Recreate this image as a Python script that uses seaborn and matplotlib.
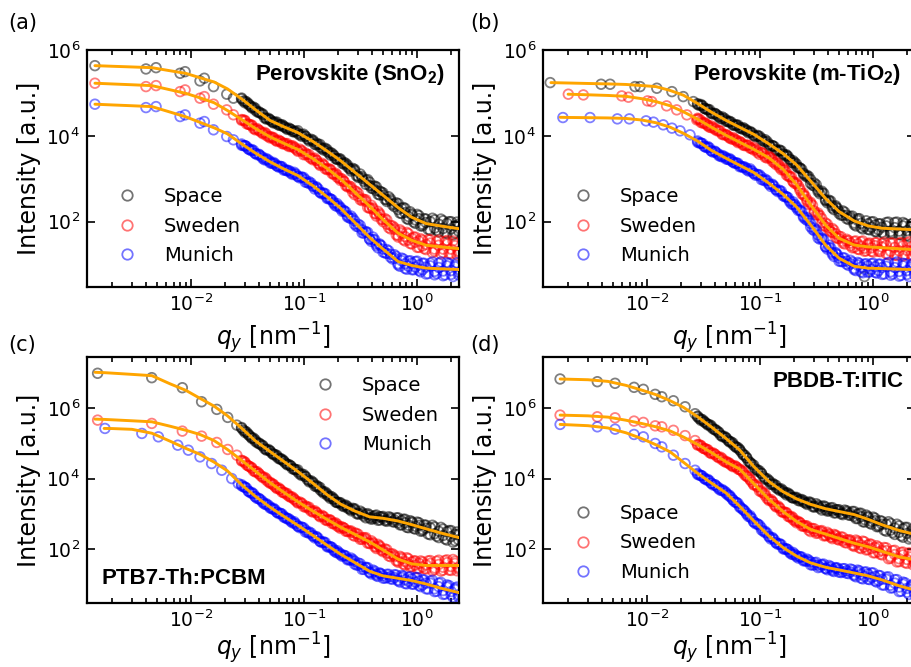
import numpy as np
import matplotlib
matplotlib.use("Agg")
import matplotlib.pyplot as plt
import seaborn as sns
from matplotlib.lines import Line2D
from matplotlib.ticker import FixedLocator, LogLocator, NullLocator, NullFormatter, LogFormatterMathtext

# ---------------- data (intensities given as log10 values) -------------
series_names = ["Space", "Sweden", "Munich"]
point_colors = ["black", "red", "blue"]
fit_color = "orange"

# q grids of the dense high-q part of every curve [nm^-1] (interleaved detector points)
q_dense = [0.028, 0.030, 0.0322, 0.0345, 0.037, 0.0399, 0.0431, 0.0463, 0.050, 0.0536, 0.0575, 0.0617,
           0.066, 0.0710, 0.0762, 0.0818, 0.088, 0.0951, 0.1028, 0.1109, 0.12, 0.1288, 0.1384, 0.1489,
           0.16, 0.1710, 0.1832, 0.1959, 0.21, 0.2254, 0.2421, 0.2606, 0.28, 0.302, 0.326, 0.352,
           0.38, 0.407, 0.436, 0.467, 0.50, 0.540, 0.583, 0.630, 0.68, 0.730, 0.783, 0.839,
           0.90, 0.966, 1.040, 1.117, 1.20, 1.309, 1.429, 1.556, 1.70, 1.841, 2.0, 2.168, 2.33]
q_mid = [0.0290, 0.0310, 0.0333, 0.0357, 0.0384, 0.0414, 0.0447, 0.0482, 0.0518, 0.0555, 0.0596, 0.0638,
         0.0684, 0.0735, 0.0789, 0.0848, 0.0914, 0.0989, 0.1067, 0.1153, 0.1245, 0.1337, 0.1436, 0.1542,
         0.1656, 0.1770, 0.1897, 0.2028, 0.2178, 0.2339, 0.2512, 0.2698, 0.2911, 0.3141, 0.3388, 0.3656,
         0.3936, 0.4217, 0.4508, 0.4831, 0.5200, 0.5610, 0.6067, 0.6546, 0.7047, 0.7551, 0.8110, 0.8690,
         0.9333, 1.0023, 1.0765, 1.1561, 1.253, 1.368, 1.489, 1.626, 1.770, 1.919, 2.080, 2.254]
# q grid of the fitted model curves
q_fit = [1.41e-3, 1.7e-3, 2.0e-3, 3e-3, 4.5e-3, 6.5e-3, 9e-3, 0.012, 0.016, 0.021, 0.028, 0.037, 0.05,
         0.066, 0.088, 0.12, 0.16, 0.21, 0.28, 0.38, 0.5, 0.68, 0.9, 1.2, 1.7, 2.35]
nan = float("nan")

# ---- (a) Perovskite (SnO2)
q_a_low = [1.41e-3, 3.99e-3, 4.9e-3, 8.0e-3, 8.85e-3, 1.2e-2, 1.31e-2, 1.58e-2, 2.07e-2, 2.37e-2]
space_a_low = [5.635, 5.558, 5.588, 5.458, 5.495, 5.279, 5.342, 5.147, 4.970, 4.877]
sweden_a_low = [5.226, 5.147, 5.170, 5.030, 5.070, 4.877, 4.914, 4.737, 4.605, 4.49]
munich_a_low = [4.737, 4.658, 4.681, 4.449, 4.488, 4.295, 4.333, 4.140, 3.984, 3.907]
space_a_hi = [4.88, 4.77, 4.75, 4.65, 4.64, 4.54, 4.51, 4.39, 4.38, 4.30, 4.32, 4.24, 4.23, 4.15, 4.15, 4.09,
              4.12, 3.99, 3.99, 3.88, 3.90, 3.79, 3.80, 3.67, 3.68, 3.55, 3.55, 3.45, 3.46, 3.34, 3.32, 3.18,
              3.22, 3.03, 3.05, 2.87, 2.92, 2.77, 2.81, 2.62, 2.67, 2.47, 2.53, 2.35, 2.42, 2.19, 2.31, 2.05,
              2.18, 1.96, 2.14, 1.90, 2.06, 1.80, 2.04, 1.76, 2.02, 1.72, 2.00, 1.73, 1.94]
sweden_a_hi = [4.36, 4.36, 4.27, 4.25, 4.14, 4.13, 4.05, 4.05, 3.95, 3.96, 3.87, 3.87, 3.81, 3.82, 3.75, 3.74,
               3.64, 3.66, 3.56, 3.56, 3.44, 3.43, 3.31, 3.33, 3.21, 3.22, 3.10, 3.09, 2.96, 2.94, 2.81, 2.81,
               2.63, 2.66, 2.49, 2.51, 2.31, 2.32, 2.13, 2.19, 2.00, 2.04, 1.83, 1.86, 1.64, 1.77, 1.55, 1.72,
               1.48, 1.64, 1.40, 1.57, 1.35, 1.58, 1.31, 1.57, 1.28, 1.56, 1.25, 1.50, 1.27]
munich_a_hi = [3.78, 3.77, 3.69, 3.68, 3.59, 3.57, 3.47, 3.47, 3.37, 3.38, 3.30, 3.29, 3.20, 3.20, 3.13, 3.15,
               3.05, 3.04, 2.92, 2.93, 2.82, 2.81, 2.68, 2.67, 2.54, 2.53, 2.42, 2.42, 2.30, 2.26, 2.11, 2.13,
               1.94, 1.94, 1.74, 1.77, 1.59, 1.64, 1.44, 1.48, 1.29, 1.35, 1.17, 1.23, 0.99, 1.15, 0.91, 1.08,
               0.88, 1.07, 0.86, 1.03, 0.78, 1.03, 0.76, 1.03, 0.74, 1.04, 0.77, 0.99, 0.76]
space_a_ctr = [4.86, 4.81, 4.73, 4.67, 4.60, 4.56, 4.49, 4.41, 4.37, 4.32, 4.28, 4.26, 4.21, 4.17, 4.15, 4.11,
               4.06, 4.03, 3.99, 3.91, 3.87, 3.83, 3.74, 3.71, 3.64, 3.61, 3.53, 3.46, 3.43, 3.38, 3.28, 3.22,
               3.19, 3.06, 3.01, 2.97, 2.84, 2.82, 2.72, 2.71, 2.62, 2.51, 2.49, 2.41, 2.28, 2.31, 2.21, 2.12,
               2.15, 2.04, 2.07, 1.94, 1.98, 2.00, 1.85, 1.94, 1.84, 1.96, 1.83, 1.91, 1.78]
sweden_a_ctr = [4.38, 4.34, 4.27, 4.23, 4.16, 4.13, 4.07, 4.01, 3.98, 3.94, 3.89, 3.87, 3.83, 3.78, 3.77, 3.72,
                3.66, 3.64, 3.60, 3.51, 3.47, 3.43, 3.33, 3.31, 3.23, 3.20, 3.12, 3.04, 3.01, 2.94, 2.83, 2.77,
                2.72, 2.59, 2.53, 2.47, 2.33, 2.29, 2.18, 2.16, 2.05, 1.94, 1.91, 1.82, 1.68, 1.73, 1.65, 1.57,
                1.61, 1.52, 1.55, 1.43, 1.47, 1.50, 1.36, 1.45, 1.36, 1.48, 1.36, 1.44, 1.31]
munich_a_ctr = [3.81, 3.77, 3.70, 3.65, 3.59, 3.56, 3.50, 3.44, 3.40, 3.35, 3.30, 3.28, 3.23, 3.18, 3.16, 3.11,
                3.06, 3.03, 2.98, 2.89, 2.84, 2.79, 2.69, 2.65, 2.57, 2.53, 2.45, 2.36, 2.33, 2.25, 2.14, 2.07,
                2.02, 1.88, 1.81, 1.75, 1.60, 1.58, 1.48, 1.46, 1.36, 1.26, 1.24, 1.15, 1.02, 1.09, 1.02, 0.96,
                1.03, 0.94, 0.99, 0.88, 0.94, 0.97, 0.84, 0.93, 0.85, 0.97, 0.86, 0.95, 0.82]
space_a_mid = [4.81, 4.79, 4.70, 4.67, 4.56, 4.53, 4.42, 4.41, 4.33, 4.32, 4.25, 4.26, 4.19, 4.18, 4.10, 4.10,
               4.02, 4.04, 3.93, 3.92, 3.80, 3.80, 3.70, 3.71, 3.60, 3.59, 3.47, 3.47, 3.36, 3.36, 3.24, 3.24,
               3.07, 3.11, 2.94, 2.98, 2.78, 2.83, 2.64, 2.69, 2.52, 2.58, 2.39, 2.44, 2.20, 2.33, 2.07, 2.23,
               1.99, 2.17, 1.90, 2.07, 1.82, 2.08, 1.80, 2.06, 1.74, 2.00, 1.69, 1.99]
sweden_a_mid = [4.37, 4.28, 4.26, 4.17, 4.17, 4.09, 4.08, 3.98, 3.97, 3.90, 3.90, 3.82, 3.82, 3.75, 3.77, 3.69,
                3.69, 3.56, 3.57, 3.47, 3.48, 3.36, 3.36, 3.23, 3.23, 3.12, 3.13, 3.01, 2.99, 2.84, 2.83, 2.68,
                2.70, 2.51, 2.52, 2.33, 2.38, 2.19, 2.24, 2.05, 2.07, 1.86, 1.90, 1.69, 1.81, 1.58, 1.75, 1.49,
                1.64, 1.40, 1.60, 1.37, 1.58, 1.28, 1.54, 1.25, 1.54, 1.26, 1.55, 1.23]
munich_a_mid = [3.77, 3.75, 3.67, 3.66, 3.56, 3.53, 3.44, 3.44, 3.36, 3.35, 3.27, 3.28, 3.20, 3.19, 3.10, 3.11,
                3.02, 3.03, 2.91, 2.90, 2.76, 2.76, 2.65, 2.65, 2.53, 2.51, 2.37, 2.37, 2.24, 2.23, 2.09, 2.08,
                1.89, 1.91, 1.73, 1.75, 1.54, 1.58, 1.39, 1.44, 1.27, 1.32, 1.13, 1.19, 0.96, 1.13, 0.89, 1.09,
                0.88, 1.08, 0.83, 1.03, 0.79, 1.06, 0.79, 1.06, 0.76, 1.02, 0.72, 1.04]
space_a_fit = [5.635, 5.628, 5.621, 5.605, 5.588, 5.517, 5.455, 5.353, 5.254, 5.094, 4.860, 4.612, 4.358,
               4.212, 4.075, 3.867, 3.645, 3.423, 3.155, 2.870, 2.615, 2.326, 2.100, 1.955, 1.890, 1.835]
sweden_a_fit = [5.226, 5.217, 5.209, 5.190, 5.170, 5.074, 4.989, 4.885, 4.771, 4.590, 4.380, 4.173, 3.974,
                3.827, 3.682, 3.468, 3.239, 2.997, 2.690, 2.360, 2.048, 1.730, 1.564, 1.450, 1.407, 1.370]
munich_a_fit = [4.737, 4.728, 4.720, 4.701, 4.681, 4.555, 4.442, 4.314, 4.186, 4.046, 3.813, 3.601, 3.394,
                3.230, 3.075, 2.835, 2.578, 2.315, 1.985, 1.633, 1.361, 1.070, 0.978, 0.917, 0.899, 0.884]

# ---- (b) Perovskite (m-TiO2)
space_b_q_low = [1.39e-3, 3.92e-3, 4.71e-3, 7.83e-3, 8.67e-3, 1.22e-2, 1.66e-2, 2.09e-2, 2.57e-2]
space_b_low = [5.240, 5.202, 5.202, 5.147, 5.147, 5.109, 5.030, 4.914, 4.798]
sweden_b_q_low = [2.01e-3, 2.73e-3, 5.97e-3, 6.84e-3, 1.01e-2, 1.10e-2, 1.49e-2, 1.83e-2, 2.25e-2, 2.75e-2]
sweden_b_low = [4.970, 4.953, 4.930, 4.900, 4.814, 4.798, 4.698, 4.605, 4.488, 4.372]
munich_b_q_low = [1.80e-3, 3.13e-3, 5.46e-3, 6.97e-3, 9.8e-3, 1.14e-2, 1.39e-2, 1.66e-2, 1.96e-2, 2.40e-2]
munich_b_low = [4.426, 4.426, 4.395, 4.395, 4.349, 4.319, 4.256, 4.179, 4.116, 4.023]
space_b_hi = [4.73, 4.73, 4.64, 4.62, 4.52, 4.52, 4.44, 4.44, 4.34, 4.34, 4.25, 4.25, 4.18, 4.19, 4.11, 4.10,
              4.00, 4.01, 3.90, 3.91, 3.78, 3.77, 3.66, 3.67, 3.56, 3.56, 3.44, 3.42, 3.29, 3.25, 3.11, 3.08,
              2.89, 2.90, 2.70, 2.71, 2.49, 2.50, 2.32, 2.37, 2.19, 2.25, 2.07, 2.12, 1.93, 2.07, 1.86, 0.72,
              1.82, 1.99, 1.77, 1.95, 1.75, 1.98, 1.72, 1.98, 1.70, 1.98, 1.68, 1.94, 1.71]
sweden_b_hi = [4.41, 4.31, 4.31, 4.23, 4.23, 4.15, 4.13, 4.03, 4.03, 3.95, 3.96, 3.88, 3.87, 3.78, 3.78, 3.71,
               3.73, 3.61, 3.61, 3.50, 3.52, 3.40, 3.39, 3.26, 3.25, 3.09, 3.06, 2.93, 2.91, 2.73, 2.66, 2.47,
               2.45, 2.22, 2.20, 1.97, 1.97, 1.80, 1.84, 1.63, 1.66, 1.50, 1.59, 1.44, 1.54, 1.36, 1.53, 1.31,
               1.49, 1.31, 1.51, 1.31, 1.49, 1.25, 1.50, 1.22, 1.50, 1.20, 1.50, 1.23, 1.45]
munich_b_hi = [3.85, 3.83, 3.75, 3.75, 3.65, 3.64, 3.54, 3.54, 3.46, 3.47, 3.39, 3.37, 3.28, 3.28, 3.21, 3.23,
               3.12, 3.10, 2.98, 2.99, 2.87, 2.87, 2.74, 2.73, 2.60, 2.58, 2.46, 2.46, 2.32, 2.27, 2.10, 2.09,
               1.88, 1.85, 1.62, 1.62, 1.41, 1.45, 1.24, 1.28, 1.08, 1.16, 1.01, 1.10, 0.88, 1.05, 0.83, 1.01,
               0.82, 1.02, 0.82, 1.01, 0.77, 1.02, 0.75, 1.03, 0.73, 1.03, 0.77, 0.99, 0.76]
space_b_ctr = [4.75, 4.71, 4.64, 4.60, 4.54, 4.52, 4.46, 4.40, 4.37, 4.32, 4.27, 4.25, 4.20, 4.15, 4.13, 4.08,
               4.02, 3.99, 3.94, 3.86, 3.81, 3.77, 3.68, 3.65, 3.58, 3.54, 3.46, 3.37, 3.34, 3.25, 3.13, 3.04,
               2.98, 2.83, 2.74, 2.67, 2.51, 2.47, 2.37, 2.34, 2.24, 2.15, 2.15, 2.08, 1.97, 2.03, 1.96, 1.89,
               1.95, 1.87, 1.92, 1.81, 1.87, 1.90, 1.77, 1.86, 1.78, 1.90, 1.79, 1.88, 1.75]
sweden_b_ctr = [4.39, 4.35, 4.29, 4.25, 4.19, 4.17, 4.11, 4.05, 4.02, 3.97, 3.92, 3.90, 3.85, 3.80, 3.78, 3.73,
                3.67, 3.65, 3.61, 3.53, 3.49, 3.44, 3.33, 3.30, 3.21, 3.15, 3.04, 2.94, 2.88, 2.77, 2.62, 2.51,
                2.42, 2.25, 2.16, 2.07, 1.89, 1.85, 1.75, 1.72, 1.61, 1.54, 1.55, 1.50, 1.40, 1.48, 1.43, 1.38,
                1.46, 1.39, 1.44, 1.35, 1.41, 1.45, 1.31, 1.40, 1.32, 1.44, 1.33, 1.41, 1.29]
munich_b_ctr = [3.88, 3.83, 3.76, 3.72, 3.65, 3.63, 3.57, 3.51, 3.49, 3.44, 3.39, 3.36, 3.31, 3.26, 3.24, 3.19,
                3.13, 3.09, 3.04, 2.95, 2.89, 2.85, 2.75, 2.71, 2.63, 2.58, 2.49, 2.40, 2.35, 2.26, 2.13, 2.03,
                1.96, 1.79, 1.69, 1.60, 1.42, 1.39, 1.28, 1.26, 1.15, 1.07, 1.08, 1.02, 0.91, 0.99, 0.94, 0.89,
                0.97, 0.89, 0.95, 0.86, 0.93, 0.96, 0.83, 0.93, 0.84, 0.97, 0.86, 0.95, 0.82]
space_b_mid = [4.71, 4.70, 4.62, 4.61, 4.51, 4.49, 4.40, 4.41, 4.33, 4.32, 4.24, 4.25, 4.17, 4.16, 4.07, 4.07,
               3.98, 3.99, 3.88, 3.87, 3.74, 3.75, 3.64, 3.65, 3.53, 3.52, 3.38, 3.38, 3.25, 3.22, 3.07, 3.05,
               2.85, 2.86, 2.65, 2.66, 2.44, 2.48, 2.28, 2.31, 2.15, 2.22, 2.05, 2.13, 1.90, 2.07, 1.83, 2.02,
               1.81, 2.00, 1.76, 1.95, 1.71, 1.99, 1.72, 1.99, 1.69, 1.95, 1.65, 1.96]
sweden_b_mid = [4.39, 4.30, 4.28, 4.20, 4.20, 4.12, 4.11, 4.02, 4.00, 3.93, 3.93, 3.84, 3.84, 3.77, 3.78, 3.70,
                3.69, 3.57, 3.58, 3.48, 3.49, 3.37, 3.35, 3.21, 3.20, 3.06, 3.04, 2.89, 2.84, 2.65, 2.59, 2.40,
                2.38, 2.16, 2.14, 1.91, 1.94, 1.76, 1.80, 1.61, 1.65, 1.48, 1.56, 1.39, 1.55, 1.35, 1.55, 1.32,
                1.50, 1.29, 1.51, 1.30, 1.52, 1.23, 1.50, 1.21, 1.51, 1.23, 1.53, 1.20]
munich_b_mid = [3.83, 3.82, 3.73, 3.72, 3.62, 3.60, 3.52, 3.52, 3.45, 3.44, 3.36, 3.36, 3.28, 3.27, 3.18, 3.18,
                3.08, 3.09, 2.97, 2.96, 2.82, 2.82, 2.70, 2.71, 2.58, 2.56, 2.41, 2.40, 2.26, 2.23, 2.06, 2.03,
                1.82, 1.81, 1.59, 1.58, 1.36, 1.39, 1.19, 1.23, 1.07, 1.15, 0.98, 1.06, 0.86, 1.03, 0.81, 1.02,
                0.83, 1.03, 0.80, 1.01, 0.78, 1.05, 0.78, 1.06, 0.75, 1.02, 0.72, 1.03]
space_b_fit = [5.240, 5.235, 5.231, 5.220, 5.210, 5.197, 5.171, 5.147, 5.057, 4.946, 4.753, 4.554, 4.360,
               4.199, 4.035, 3.810, 3.585, 3.325, 2.948, 2.540, 2.235, 2.017, 1.903, 1.846, 1.828, 1.812]
sweden_b_fit = [nan, nan, 4.970, 4.956, 4.941, 4.920, 4.865, 4.797, 4.701, 4.560, 4.388, 4.203, 4.012,
                3.851, 3.686, 3.486, 3.220, 2.866, 2.392, 1.919, 1.613, 1.454, 1.412, 1.392, 1.368, 1.347]
munich_b_fit = [nan, 4.432, 4.428, 4.423, 4.417, 4.405, 4.368, 4.305, 4.201, 4.058, 3.877, 3.663, 3.477,
                3.313, 3.145, 2.894, 2.636, 2.344, 1.927, 1.454, 1.149, 0.960, 0.916, 0.906, 0.893, 0.882]

# ---- (c) PTB7-Th:PCBM
q_c_low = [1.49e-3, 4.49e-3, 8.37e-3, 1.24e-2, 1.69e-2, 2.11e-2, 2.54e-2]
space_c_low = [6.986, 6.861, 6.577, 6.179, 5.963, 5.736, 5.517]
sweden_c_low = [5.659, 5.565, 5.347, 5.205, 5.026, 4.827, 4.665]
munich_c_q_low = [1.73e-3, 3.67e-3, 5.14e-3, 7.63e-3, 9.46e-3, 1.20e-2, 1.52e-2, 1.87e-2, 2.29e-2, 2.62e-2]
munich_c_low = [5.423, 5.281, 5.185, 4.949, 4.807, 4.617, 4.429, 4.239, 4.003, 3.861]
space_c_hi = [5.45, 5.31, 5.26, 5.14, 5.10, 4.99, 4.94, 4.81, 4.79, 4.68, 4.66, 4.55, 4.51, 4.39, 4.36, 4.26,
              4.25, 4.09, 4.06, 3.91, 3.90, 3.77, 3.75, 3.59, 3.57, 3.44, 3.43, 3.32, 3.32, 3.21, 3.21, 3.09,
              3.15, 2.99, 3.04, 2.89, 2.97, 2.87, 2.97, 2.83, 2.93, 2.79, 2.90, 2.77, 2.89, 2.69, 2.85, 2.61,
              2.78, 2.57, 2.75, 2.52, 2.68, 2.41, 2.63, 2.33, 2.57, 2.26, 2.53, 2.24, 2.43]
sweden_c_hi = [4.50, 4.47, 4.36, 4.31, 4.19, 4.14, 4.03, 4.00, 3.87, 3.84, 3.72, 3.69, 3.60, 3.58, 3.47, 3.43,
               3.31, 3.31, 3.19, 3.19, 3.05, 3.04, 2.92, 2.93, 2.81, 2.83, 2.72, 2.71, 2.59, 2.60, 2.50, 2.52,
               2.37, 2.42, 2.28, 2.33, 2.16, 2.19, 2.02, 2.10, 1.93, 1.99, 1.79, 1.83, 1.63, 1.77, 1.55, 1.73,
               1.51, 1.67, 1.45, 1.64, 1.44, 1.68, 1.42, 1.69, 1.41, 1.70, 1.40, 1.66, 1.44]
munich_c_hi = [3.80, 3.76, 3.64, 3.61, 3.49, 3.44, 3.32, 3.29, 3.17, 3.16, 3.05, 3.02, 2.91, 2.88, 2.79, 2.78,
               2.65, 2.63, 2.49, 2.49, 2.37, 2.36, 2.22, 2.21, 2.07, 2.07, 1.96, 1.96, 1.84, 1.83, 1.70, 1.75,
               1.58, 1.61, 1.43, 1.49, 1.34, 1.41, 1.25, 1.33, 1.18, 1.29, 1.16, 1.28, 1.10, 1.26, 1.03, 1.21,
               1.01, 1.20, 0.97, 1.14, 0.88, 1.10, 0.80, 1.04, 0.72, 0.99, 0.71, 0.90, 0.65]
space_c_ctr = [5.43, 5.35, 5.24, 5.16, 5.06, 5.01, 4.92, 4.83, 4.78, 4.70, 4.62, 4.57, 4.49, 4.41, 4.36, 4.28,
               4.19, 4.13, 4.06, 3.94, 3.87, 3.81, 3.69, 3.63, 3.53, 3.50, 3.41, 3.33, 3.29, 3.25, 3.17, 3.13,
               3.12, 3.02, 3.00, 2.99, 2.89, 2.92, 2.88, 2.92, 2.88, 2.83, 2.86, 2.83, 2.75, 2.81, 2.75, 2.68,
               2.75, 2.65, 2.68, 2.56, 2.60, 2.61, 2.44, 2.51, 2.39, 2.50, 2.36, 2.42, 2.27]
sweden_c_ctr = [4.52, 4.45, 4.36, 4.29, 4.21, 4.14, 4.05, 3.96, 3.90, 3.82, 3.74, 3.69, 3.62, 3.54, 3.49, 3.41,
                3.33, 3.29, 3.23, 3.14, 3.08, 3.04, 2.94, 2.91, 2.83, 2.81, 2.74, 2.66, 2.64, 2.60, 2.52, 2.48,
                2.46, 2.35, 2.32, 2.29, 2.18, 2.16, 2.07, 2.07, 1.98, 1.89, 1.87, 1.79, 1.67, 1.73, 1.65, 1.58,
                1.64, 1.55, 1.60, 1.50, 1.56, 1.60, 1.47, 1.57, 1.49, 1.62, 1.51, 1.60, 1.48]
munich_c_ctr = [3.83, 3.76, 3.65, 3.58, 3.49, 3.43, 3.35, 3.26, 3.20, 3.13, 3.05, 3.01, 2.94, 2.86, 2.82, 2.74,
                2.66, 2.62, 2.55, 2.45, 2.39, 2.34, 2.23, 2.19, 2.10, 2.07, 1.99, 1.90, 1.87, 1.82, 1.73, 1.69,
                1.66, 1.55, 1.50, 1.47, 1.35, 1.35, 1.29, 1.31, 1.25, 1.20, 1.23, 1.20, 1.13, 1.20, 1.14, 1.09,
                1.16, 1.07, 1.10, 0.99, 1.04, 1.04, 0.88, 0.94, 0.83, 0.93, 0.80, 0.86, 0.71]
space_c_mid = [5.37, 5.32, 5.20, 5.15, 5.02, 4.97, 4.85, 4.83, 4.72, 4.68, 4.57, 4.55, 4.44, 4.40, 4.28, 4.25,
               4.13, 4.12, 3.98, 3.94, 3.79, 3.77, 3.64, 3.62, 3.49, 3.48, 3.34, 3.33, 3.23, 3.25, 3.14, 3.16,
               3.01, 3.08, 2.94, 3.01, 2.85, 2.95, 2.82, 2.92, 2.81, 2.92, 2.78, 2.89, 2.69, 2.85, 2.62, 2.81,
               2.59, 2.77, 2.51, 2.69, 2.43, 2.68, 2.37, 2.62, 2.29, 2.53, 2.20, 2.49]
sweden_c_mid = [4.50, 4.39, 4.34, 4.22, 4.20, 4.08, 4.04, 3.91, 3.86, 3.77, 3.74, 3.62, 3.59, 3.50, 3.48, 3.37,
                3.34, 3.21, 3.20, 3.08, 3.09, 2.97, 2.96, 2.83, 2.84, 2.73, 2.75, 2.63, 2.63, 2.51, 2.52, 2.40,
                2.45, 2.28, 2.33, 2.17, 2.24, 2.07, 2.14, 1.97, 2.01, 1.81, 1.87, 1.67, 1.80, 1.58, 1.76, 1.50,
                1.67, 1.45, 1.67, 1.45, 1.67, 1.39, 1.66, 1.38, 1.68, 1.41, 1.71, 1.39]
munich_c_mid = [3.77, 3.73, 3.61, 3.57, 3.44, 3.40, 3.28, 3.25, 3.15, 3.12, 3.01, 3.00, 2.89, 2.86, 2.75, 2.72,
                2.61, 2.61, 2.48, 2.46, 2.32, 2.31, 2.19, 2.19, 2.06, 2.05, 1.92, 1.91, 1.80, 1.81, 1.70, 1.71,
                1.55, 1.59, 1.43, 1.48, 1.30, 1.38, 1.23, 1.30, 1.18, 1.29, 1.15, 1.27, 1.07, 1.24, 1.02, 1.22,
                1.01, 1.20, 0.94, 1.13, 0.87, 1.12, 0.81, 1.06, 0.73, 0.97, 0.64, 0.93]
space_c_fit = [7.014, 7.004, 6.990, 6.955, 6.918, 6.689, 6.502, 6.276, 6.054, 5.781, 5.430, 5.073, 4.768,
               4.489, 4.205, 3.868, 3.543, 3.281, 3.085, 2.918, 2.877, 2.799, 2.696, 2.579, 2.443, 2.330]
sweden_c_fit = [5.688, 5.679, 5.668, 5.640, 5.611, 5.487, 5.371, 5.251, 5.078, 4.826, 4.520, 4.216, 3.886,
                3.616, 3.346, 3.079, 2.843, 2.627, 2.425, 2.209, 1.980, 1.718, 1.585, 1.540, 1.540, 1.540]
munich_c_fit = [nan, 5.423, 5.420, 5.398, 5.288, 5.064, 4.857, 4.690, 4.468, 4.220, 3.827, 3.501, 3.192,
                2.935, 2.679, 2.389, 2.113, 1.861, 1.627, 1.377, 1.246, 1.176, 1.112, 1.016, 0.880, 0.770]

# ---- (d) PBDB-T:ITIC
q_d_low = [1.70e-3, 3.63e-3, 5.21e-3, 7.67e-3, 9.27e-3, 1.18e-2, 1.35e-2, 1.71e-2, 2.17e-2, 2.66e-2]
space_d_low = [6.824, 6.747, 6.702, 6.588, 6.531, 6.389, 6.321, 6.207, 6.037, 5.84]
sweden_d_low = [5.801, 5.753, 5.724, 5.631, 5.594, 5.497, 5.469, 5.37, 5.22, 5.08]
munich_d_low = [5.537, 5.469, 5.403, 5.253, 5.185, 4.997, 4.901, 4.665, 4.429, 4.239]
space_d_hi = [5.77, 5.65, 5.62, 5.52, 5.50, 5.38, 5.32, 5.19, 5.16, 5.04, 5.01, 4.88, 4.83, 4.67, 4.59, 4.44,
              4.38, 4.21, 4.15, 3.98, 3.95, 3.83, 3.81, 3.67, 3.66, 3.54, 3.55, 3.45, 3.47, 3.37, 3.38, 3.27,
              3.33, 3.19, 3.25, 3.11, 3.20, 3.09, 3.18, 3.03, 3.12, 2.98, 3.09, 2.96, 3.07, 2.87, 3.02, 2.77,
              2.93, 2.71, 2.88, 2.64, 2.79, 2.51, 2.73, 2.42, 2.66, 2.34, 2.62, 2.33, 2.52]
sweden_d_hi = [4.95, 4.94, 4.85, 4.82, 4.71, 4.69, 4.59, 4.57, 4.46, 4.44, 4.34, 4.33, 4.25, 4.20, 4.06, 3.98,
               3.82, 3.78, 3.62, 3.57, 3.38, 3.35, 3.20, 3.18, 3.04, 3.04, 2.91, 2.89, 2.75, 2.75, 2.65, 2.66,
               2.50, 2.58, 2.46, 2.53, 2.38, 2.44, 2.30, 2.40, 2.26, 2.34, 2.18, 2.26, 2.08, 2.23, 2.02, 2.21,
               1.99, 2.14, 1.90, 2.06, 1.84, 2.04, 1.74, 1.97, 1.65, 1.92, 1.60, 1.84, 1.60]
munich_d_hi = [4.12, 4.09, 4.00, 3.98, 3.87, 3.83, 3.71, 3.69, 3.58, 3.53, 3.40, 3.33, 3.19, 3.13, 2.99, 2.95,
               2.77, 2.72, 2.55, 2.51, 2.35, 2.33, 2.18, 2.16, 2.01, 2.01, 1.90, 1.91, 1.79, 1.79, 1.67, 1.72,
               1.56, 1.62, 1.48, 1.57, 1.45, 1.54, 1.39, 1.48, 1.35, 1.45, 1.32, 1.44, 1.25, 1.41, 1.18, 1.35,
               1.15, 1.33, 1.10, 1.26, 0.99, 1.21, 0.90, 1.14, 0.80, 1.07, 0.78, 0.97, 0.72]
space_d_ctr = [5.75, 5.69, 5.60, 5.54, 5.46, 5.40, 5.30, 5.21, 5.15, 5.06, 4.97, 4.90, 4.81, 4.69, 4.59, 4.46,
               4.32, 4.25, 4.15, 4.01, 3.92, 3.87, 3.75, 3.71, 3.62, 3.60, 3.53, 3.46, 3.44, 3.41, 3.34, 3.31,
               3.30, 3.22, 3.21, 3.21, 3.12, 3.14, 3.09, 3.12, 3.07, 3.02, 3.05, 3.02, 2.93, 2.99, 2.92, 2.84,
               2.90, 2.79, 2.81, 2.68, 2.71, 2.71, 2.54, 2.60, 2.48, 2.58, 2.45, 2.51, 2.36]
sweden_d_ctr = [4.97, 4.92, 4.85, 4.80, 4.73, 4.69, 4.61, 4.53, 4.49, 4.42, 4.36, 4.33, 4.27, 4.16, 4.08, 3.96,
                3.84, 3.76, 3.66, 3.52, 3.41, 3.35, 3.22, 3.16, 3.06, 3.02, 2.93, 2.84, 2.80, 2.75, 2.67, 2.62,
                2.59, 2.51, 2.50, 2.49, 2.40, 2.41, 2.35, 2.37, 2.31, 2.24, 2.26, 2.22, 2.12, 2.19, 2.12, 2.06,
                2.12, 2.02, 2.05, 1.92, 1.96, 1.96, 1.79, 1.85, 1.73, 1.84, 1.71, 1.78, 1.64]
munich_d_ctr = [4.15, 4.09, 4.01, 3.95, 3.87, 3.82, 3.74, 3.66, 3.61, 3.50, 3.40, 3.32, 3.22, 3.11, 3.02, 2.91,
                2.78, 2.71, 2.61, 2.47, 2.37, 2.31, 2.19, 2.14, 2.04, 2.01, 1.93, 1.85, 1.82, 1.78, 1.70, 1.66,
                1.64, 1.56, 1.55, 1.55, 1.46, 1.48, 1.43, 1.46, 1.42, 1.36, 1.39, 1.36, 1.28, 1.35, 1.29, 1.23,
                1.30, 1.20, 1.23, 1.11, 1.15, 1.15, 0.98, 1.04, 0.93, 1.01, 0.89, 0.93, 0.78]
space_d_mid = [5.70, 5.67, 5.57, 5.53, 5.41, 5.36, 5.23, 5.20, 5.09, 5.04, 4.92, 4.88, 4.75, 4.66, 4.49, 4.41,
               4.26, 4.22, 4.06, 4.00, 3.84, 3.83, 3.71, 3.71, 3.59, 3.59, 3.47, 3.47, 3.38, 3.41, 3.31, 3.34,
               3.21, 3.29, 3.16, 3.23, 3.08, 3.17, 3.03, 3.12, 3.00, 3.11, 2.97, 3.07, 2.87, 3.02, 2.78, 2.97,
               2.74, 2.91, 2.64, 2.81, 2.54, 2.78, 2.47, 2.71, 2.38, 2.62, 2.29, 2.58]
sweden_d_mid = [4.96, 4.87, 4.84, 4.74, 4.73, 4.63, 4.61, 4.49, 4.46, 4.38, 4.37, 4.27, 4.23, 4.10, 4.04, 3.90,
                3.83, 3.65, 3.60, 3.44, 3.41, 3.26, 3.23, 3.07, 3.05, 2.93, 2.93, 2.80, 2.79, 2.66, 2.67, 2.54,
                2.59, 2.45, 2.52, 2.38, 2.48, 2.34, 2.42, 2.28, 2.35, 2.19, 2.27, 2.11, 2.26, 2.04, 2.23, 1.98,
                2.15, 1.90, 2.10, 1.86, 2.05, 1.73, 1.96, 1.64, 1.91, 1.62, 1.90, 1.56]
munich_d_mid = [4.10, 4.07, 3.97, 3.94, 3.82, 3.78, 3.67, 3.65, 3.54, 3.47, 3.34, 3.30, 3.16, 3.08, 2.93, 2.87,
                2.72, 2.68, 2.51, 2.46, 2.29, 2.27, 2.14, 2.13, 2.00, 1.99, 1.86, 1.86, 1.75, 1.78, 1.67, 1.69,
                1.55, 1.63, 1.50, 1.58, 1.42, 1.51, 1.37, 1.47, 1.34, 1.45, 1.31, 1.42, 1.22, 1.39, 1.16, 1.36,
                1.14, 1.33, 1.07, 1.25, 0.98, 1.22, 0.91, 1.14, 0.81, 1.05, 0.72, 1.01]
space_d_fit = [nan, 6.824, 6.818, 6.803, 6.756, 6.644, 6.508, 6.379, 6.208, 6.021, 5.754, 5.468, 5.138,
               4.813, 4.343, 3.917, 3.630, 3.429, 3.272, 3.148, 3.070, 2.983, 2.850, 2.694, 2.532, 2.420]
sweden_d_fit = [nan, 5.801, 5.795, 5.780, 5.744, 5.656, 5.562, 5.468, 5.352, 5.179, 4.969, 4.743, 4.475,
                4.272, 3.859, 3.414, 3.067, 2.789, 2.560, 2.431, 2.307, 2.171, 2.071, 1.942, 1.784, 1.700]
munich_d_fit = [nan, 5.537, 5.527, 5.501, 5.437, 5.300, 5.135, 4.959, 4.759, 4.465, 4.152, 3.878, 3.595,
                3.218, 2.804, 2.372, 2.047, 1.807, 1.613, 1.489, 1.415, 1.327, 1.248, 1.131, 0.963, 0.840]

panel_tags = ["(a)", "(b)", "(c)", "(d)"]
panel_titles = ["Perovskite (SnO$_\\mathbf{2}$)", "Perovskite (m-TiO$_\\mathbf{2}$)", "PTB7-Th:PCBM", "PBDB-T:ITIC"]
y_ticks = [1e2, 1e4, 1e6]
x_ticks = [1e-2, 1e-1, 1e0]

# ---------------- style -------------
sns.set_style("ticks")
plt.rcParams["font.family"] = ["DejaVu Sans"]
plt.rcParams["mathtext.fontset"] = "custom"
plt.rcParams["mathtext.rm"] = "DejaVu Sans"
plt.rcParams["mathtext.it"] = "DejaVu Sans:italic"
plt.rcParams["mathtext.bf"] = "Liberation Sans:bold"
for key in ["text.color", "axes.labelcolor", "xtick.color", "ytick.color", "axes.edgecolor"]:
    plt.rcParams[key] = "black"

fig = plt.figure(figsize=(9.12, 6.67), dpi=100)
W, H = 912.0, 667.0


def box(left, top, right, bottom):
    return [left / W, 1 - bottom / H, (right - left) / W, (bottom - top) / H]


axes = [fig.add_axes(box(87, 50, 459, 287)), fig.add_axes(box(543, 50, 915, 287)),
        fig.add_axes(box(87, 357, 459, 603)), fig.add_axes(box(543, 357, 915, 603))]

panels = [
    dict(q_low=[q_a_low, q_a_low, q_a_low], low=[space_a_low, sweden_a_low, munich_a_low],
         hi=[space_a_hi, sweden_a_hi, munich_a_hi], ctr=[space_a_ctr, sweden_a_ctr, munich_a_ctr],
         mid=[space_a_mid, sweden_a_mid, munich_a_mid], fit=[space_a_fit, sweden_a_fit, munich_a_fit],
         ylim=(3, 1e6), leg=(0.055, 0.257), tpos=(0.96, 0.895), tha="right", lpad=3),
    dict(q_low=[space_b_q_low, sweden_b_q_low, munich_b_q_low], low=[space_b_low, sweden_b_low, munich_b_low],
         hi=[space_b_hi, sweden_b_hi, munich_b_hi], ctr=[space_b_ctr, sweden_b_ctr, munich_b_ctr],
         mid=[space_b_mid, sweden_b_mid, munich_b_mid], fit=[space_b_fit, sweden_b_fit, munich_b_fit],
         ylim=(3, 1e6), leg=(0.055, 0.257), tpos=(0.962, 0.895), tha="right", lpad=3),
    dict(q_low=[q_c_low, q_c_low, munich_c_q_low], low=[space_c_low, sweden_c_low, munich_c_low],
         hi=[space_c_hi, sweden_c_hi, munich_c_hi], ctr=[space_c_ctr, sweden_c_ctr, munich_c_ctr],
         mid=[space_c_mid, sweden_c_mid, munich_c_mid], fit=[space_c_fit, sweden_c_fit, munich_c_fit],
         ylim=(3, 2.8e7), leg=(0.588, 0.764), tpos=(0.04, 0.10), tha="left", lpad=-1),
    dict(q_low=[q_d_low, q_d_low, q_d_low], low=[space_d_low, sweden_d_low, munich_d_low],
         hi=[space_d_hi, sweden_d_hi, munich_d_hi], ctr=[space_d_ctr, sweden_d_ctr, munich_d_ctr],
         mid=[space_d_mid, sweden_d_mid, munich_d_mid], fit=[space_d_fit, sweden_d_fit, munich_d_fit],
         ylim=(3, 2.8e7), leg=(0.055, 0.244), tpos=(0.968, 0.90), tha="right", lpad=-1),
]

for i, (ax, p) in enumerate(zip(axes, panels)):
    ax.set_xscale("log")
    ax.set_yscale("log")
    for name, col, ql, vl, vh, vc, vm in zip(series_names, point_colors, p["q_low"], p["low"],
                                             p["hi"], p["ctr"], p["mid"]):
        q = np.concatenate([ql, q_dense, q_dense, q_mid])
        inten = 10.0 ** np.concatenate([vl, vh, vc, vm])
        sns.scatterplot(x=q, y=inten, ax=ax, marker="o", s=48, color=col, facecolor="none",
                        edgecolor=col, linewidth=1.3, alpha=0.5, legend=False, zorder=2)
    for vf in p["fit"]:
        sns.lineplot(x=q_fit, y=10.0 ** np.array(vf), ax=ax, color=fit_color, linewidth=2.1,
                     legend=False, sort=False, estimator=None, zorder=5)
    ax.set_xlim(1.2e-3, 2.35)
    ax.set_ylim(*p["ylim"])
    ax.xaxis.set_major_locator(FixedLocator(x_ticks))
    ax.xaxis.set_minor_locator(LogLocator(base=10, subs=np.arange(2, 10), numticks=30))
    ax.xaxis.set_minor_formatter(NullFormatter())
    ax.xaxis.set_major_formatter(LogFormatterMathtext())
    ax.yaxis.set_major_locator(FixedLocator(y_ticks))
    ax.yaxis.set_minor_locator(NullLocator())
    ax.yaxis.set_major_formatter(LogFormatterMathtext())
    ax.tick_params(which="both", direction="in", top=True, right=True, width=1.2, colors="black")
    ax.tick_params(which="major", length=6, labelsize=13.5, pad=5)
    ax.tick_params(which="minor", length=3.5)
    for sp in ax.spines.values():
        sp.set_linewidth(1.6)
        sp.set_color("black")
    ax.set_xlabel(r"$q_y$ [nm$^{-1}$]", fontsize=17, labelpad=p["lpad"])
    ax.set_ylabel("Intensity [a.u.]", fontsize=17, labelpad=4)

    handles = [Line2D([], [], marker="o", ls="none", mfc="none", mec=c, mew=1.3, ms=7.5, alpha=0.55)
               for c in point_colors]
    ax.legend(handles, series_names, loc="center left", bbox_to_anchor=p["leg"], frameon=False,
              fontsize=14, handlelength=2.0, handletextpad=0.9, labelspacing=0.55,
              borderpad=0, borderaxespad=0)
    ax.text(p["tpos"][0], p["tpos"][1], panel_titles[i], transform=ax.transAxes, ha=p["tha"],
            va="center", fontsize=16, fontweight="bold", family="Liberation Sans", zorder=10)

fig.text(8 / W, 1 - 23 / H, panel_tags[0], fontsize=15, va="center", ha="left")
fig.text(470 / W, 1 - 23 / H, panel_tags[1], fontsize=15, va="center", ha="left")
fig.text(8 / W, 1 - 345 / H, panel_tags[2], fontsize=15, va="center", ha="left")
fig.text(470 / W, 1 - 345 / H, panel_tags[3], fontsize=15, va="center", ha="left")

fig.savefig("out.png", dpi=100)
